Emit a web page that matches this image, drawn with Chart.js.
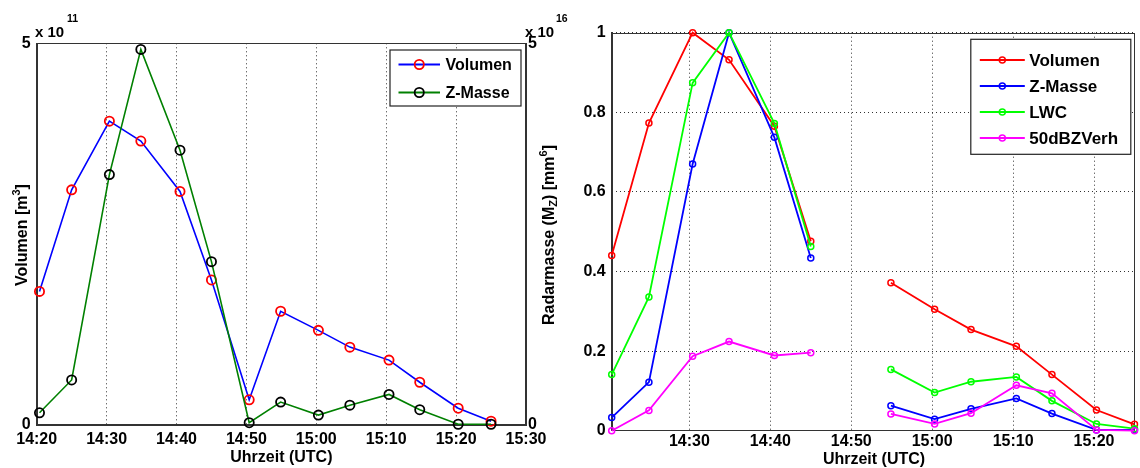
<!DOCTYPE html>
<html>
<head>
<meta charset="utf-8">
<script src="https://cdn.jsdelivr.net/npm/chart.js@4.4.1/dist/chart.umd.min.js"></script>
<style>
  html, body { margin: 0; padding: 0; background: #fff; }
  #wrap { position: relative; width: 1140px; height: 468px; }
  canvas { position: absolute; top: 0; }
  #volChart { left: 0; }
  #normChart { left: 570px; }
</style>
</head>
<body>
<div id="wrap">
  <canvas id="volChart" width="570" height="468"></canvas>
  <canvas id="normChart" width="570" height="468"></canvas>
</div>
<script>
// Messzeitpunkte, Minuten nach 14:00 UTC
const times = [20.4, 25.0, 30.4, 34.9, 40.5, 45.0, 50.4, 54.9, 60.3, 64.8, 70.4, 74.8, 80.3, 85.0];

// linkes Bild: Volumen (x 10^11 m^3) und Z-Masse (x 10^16 mm^6)
const volumen = [1.75, 3.08, 3.98, 3.72, 3.06, 1.90, 0.33, 1.49, 1.24, 1.02, 0.85, 0.56, 0.22, 0.05];
const zMasse  = [0.16, 0.59, 3.28, 4.92, 3.60, 2.14, 0.03, 0.30, 0.13, 0.26, 0.40, 0.20, 0.01, 0.01];

// rechtes Bild: normierte Werte, Luecke um 14:50
const volumenNorm = [0.44, 0.773, 1.0, 0.932, 0.765, 0.476, null, 0.372, 0.305, 0.254, 0.212, 0.141, 0.052, 0.016];
const zMasseNorm  = [0.033, 0.122, 0.670, 1.0, 0.737, 0.434, null, 0.063, 0.029, 0.055, 0.081, 0.043, 0.002, 0.002];
const lwcNorm     = [0.141, 0.336, 0.874, 1.0, 0.772, 0.463, null, 0.154, 0.096, 0.123, 0.135, 0.075, 0.017, 0.005];
const dbz50Norm   = [0.0, 0.051, 0.187, 0.224, 0.189, 0.196, null, 0.042, 0.017, 0.044, 0.114, 0.094, 0.002, 0.0];

// Achsen
const xRangeLeft = [20, 90];      // 14:20 .. 15:30
const yRangeLeft = [0, 5];
const yRangeRight = [0, 1];

const FONT = "'Liberation Sans', Arial, sans-serif";
Chart.defaults.font.family = FONT;
Chart.defaults.font.weight = 'bold';
Chart.defaults.font.size = 16;
Chart.defaults.color = '#000';

function hhmm(v) {
    const h = 14 + Math.floor(v / 60);
    const m = Math.round(v % 60);
    return h + ':' + String(m).padStart(2, '0');
}
const pts = ys => ys.map((y, i) => ({ x: times[i], y }));

// Text mit Hoch-/Tiefstellung, zentriert
function drawRuns(ctx, runs, x, y, rot, size, align) {
    ctx.save();
    ctx.translate(x, y);
    ctx.rotate(rot);
    const fnt = k => `bold ${k === 'n' ? size : Math.round(size * 0.68)}px ${FONT}`;
    let total = 0;
    runs.forEach(([t, k]) => { ctx.font = fnt(k); total += ctx.measureText(t).width; });
    let cx = align === 'left' ? 0 : -total / 2;
    ctx.fillStyle = '#000';
    ctx.textBaseline = 'alphabetic';
    runs.forEach(([t, k]) => {
        ctx.font = fnt(k);
        const dy = k === 'sup' ? -size * 0.42 : k === 'sub' ? size * 0.22 : 0;
        ctx.fillText(t, cx, size * 0.36 + dy);
        cx += ctx.measureText(t).width;
    });
    ctx.restore();
}

// MATLAB-artige Legende: Linie mit Kreis
function drawLegend(chart, lg) {
    const ctx = chart.ctx;
    ctx.save();
    ctx.fillStyle = '#fff';
    ctx.fillRect(lg.x, lg.y, lg.w, lg.h);
    ctx.strokeStyle = '#222';
    ctx.lineWidth = 1.2;
    ctx.strokeRect(lg.x, lg.y, lg.w, lg.h);
    chart.data.datasets.forEach((ds, i) => {
        const y = lg.y + lg.first + i * lg.step;
        ctx.strokeStyle = ds.borderColor;
        ctx.lineWidth = 2;
        ctx.beginPath();
        ctx.moveTo(lg.x + lg.l0, y);
        ctx.lineTo(lg.x + lg.l1, y);
        ctx.stroke();
        ctx.strokeStyle = ds.pointBorderColor;
        ctx.lineWidth = ds.pointBorderWidth;
        ctx.beginPath();
        ctx.arc(lg.x + (lg.l0 + lg.l1) / 2, y, ds.pointRadius, 0, Math.PI * 2);
        ctx.stroke();
        ctx.fillStyle = '#000';
        ctx.font = `bold ${lg.size}px ${FONT}`;
        ctx.textBaseline = 'middle';
        ctx.fillText(ds.label, lg.x + lg.tx, y + 1);
    });
    ctx.restore();
}

const matlabDeko = {
    id: 'matlabDeko',
    beforeDatasetsDraw(chart) {
        const a = chart.chartArea, ctx = chart.ctx;
        ctx.save();
        ctx.strokeStyle = '#333';
        ctx.lineWidth = 1;
        ctx.strokeRect(Math.round(a.left) + 0.5, Math.round(a.top) + 0.5,
            Math.round(a.right - a.left) - 1, Math.round(a.bottom - a.top) - 1);
        ctx.restore();
    },
    afterDraw(chart, args, o) {
        const ctx = chart.ctx;
        if (o.legend) drawLegend(chart, o.legend);
        (o.texts || []).forEach(t => drawRuns(ctx, t.runs, t.x, t.y, t.rot || 0, t.size, t.align));
    }
};

function fixWidth(w) { return s => { s.width = w; }; }
function fixHeight(h) { return s => { s.height = h; }; }

// ==================== LINKES DIAGRAMM ====================
new Chart(document.getElementById('volChart'), {
    type: 'line',
    data: {
        datasets: [{
            label: 'Volumen',
            data: pts(volumen),
            yAxisID: 'yL',
            borderColor: '#0000ff',
            borderWidth: 1.6,
            pointRadius: 4.6,
            pointBorderColor: '#ff0000',
            pointBackgroundColor: 'rgba(0,0,0,0)',
            pointBorderWidth: 1.8,
            order: 2,
            clip: false
        }, {
            label: 'Z-Masse',
            data: pts(zMasse),
            yAxisID: 'yR',
            borderColor: '#008000',
            borderWidth: 1.6,
            pointRadius: 4.6,
            pointBorderColor: '#000000',
            pointBackgroundColor: 'rgba(0,0,0,0)',
            pointBorderWidth: 1.8,
            order: 1,
            clip: false
        }]
    },
    options: {
        responsive: false,
        animation: false,
        events: [],
        layout: { padding: { top: 43.3, left: 0, right: 0, bottom: 0 } },
        plugins: {
            legend: { display: false },
            tooltip: { enabled: false },
            matlabDeko: {
                legend: { x: 390, y: 50, w: 131, h: 56, first: 14.5, step: 28, l0: 8.5, l1: 50, tx: 55.5, size: 16 },
                texts: [
                    { runs: [['x 10', 'n']], x: 35, y: 32, size: 15, align: 'left' },
                    { runs: [['11', 'n']], x: 67, y: 18, size: 10.5, align: 'left' },
                    { runs: [['x 10', 'n']], x: 525, y: 31.5, size: 15, align: 'left' },
                    { runs: [['16', 'n']], x: 556, y: 18, size: 10.5, align: 'left' },
                    { runs: [['Volumen [m', 'n'], ['3', 'sup'], [']', 'n']], x: 21, y: 235, rot: -Math.PI / 2, size: 16 },
                    { runs: [['Radarmasse (M', 'n'], ['Z', 'sub'], [') [mm', 'n'], ['6', 'sup'], [']', 'n']], x: 548, y: 235, rot: -Math.PI / 2, size: 16 },
                    { runs: [['Uhrzeit (UTC)', 'n']], x: 281.4, y: 456, size: 16 }
                ]
            }
        },
        scales: {
            x: {
                type: 'linear',
                min: xRangeLeft[0],
                max: xRangeLeft[1],
                afterFit: fixHeight(43),
                ticks: { stepSize: 10, callback: hhmm, padding: 5, maxRotation: 0, autoSkip: false },
                grid: { color: '#333', drawTicks: false, lineWidth: 1 },
                border: { color: '#333', dash: [1, 3] }
            },
            yL: {
                position: 'left',
                min: yRangeLeft[0],
                max: yRangeLeft[1],
                afterFit: fixWidth(36.7),
                ticks: { stepSize: 5, padding: 6 },
                grid: { display: false, drawTicks: false },
                border: { color: '#333' }
            },
            yR: {
                position: 'right',
                min: yRangeLeft[0],
                max: yRangeLeft[1],
                afterFit: fixWidth(44),
                ticks: { stepSize: 5, padding: 2 },
                grid: { display: false, drawTicks: false },
                border: { color: '#333' }
            }
        }
    },
    plugins: [matlabDeko]
});

// ==================== RECHTES DIAGRAMM ====================
function normSet(label, values, color, order) {
    return {
        label,
        data: pts(values),
        borderColor: color,
        borderWidth: 1.8,
        pointRadius: 3,
        pointBorderColor: color,
        pointBackgroundColor: 'rgba(0,0,0,0)',
        pointBorderWidth: 1.5,
        spanGaps: false,
        order,
        clip: false
    };
}

new Chart(document.getElementById('normChart'), {
    type: 'line',
    data: {
        datasets: [
            normSet('Volumen', volumenNorm, '#ff0000', 4),
            normSet('Z-Masse', zMasseNorm, '#0000ff', 3),
            normSet('LWC', lwcNorm, '#00ff00', 2),
            normSet('50dBZVerh', dbz50Norm, '#ff00ff', 1)
        ]
    },
    options: {
        responsive: false,
        animation: false,
        events: [],
        layout: { padding: { top: 32.7, left: 0, right: 3.3, bottom: 0 } },
        plugins: {
            legend: { display: false },
            tooltip: { enabled: false },
            matlabDeko: {
                legend: { x: 400.8, y: 39.3, w: 160, h: 115, first: 20.7, step: 26, l0: 9, l1: 54, tx: 58.5, size: 17 },
                texts: [
                    { runs: [['Uhrzeit (UTC)', 'n']], x: 304, y: 458, size: 16 }
                ]
            }
        },
        scales: {
            x: {
                type: 'linear',
                min: times[0],
                max: times[times.length - 1],
                afterFit: fixHeight(37.3),
                ticks: { stepSize: 10, includeBounds: false, callback: hhmm, padding: 1, maxRotation: 0, autoSkip: false },
                grid: { color: '#333', drawTicks: false, lineWidth: 1 },
                border: { color: '#333', dash: [1, 3] }
            },
            y: {
                position: 'left',
                min: yRangeRight[0],
                max: yRangeRight[1],
                afterFit: fixWidth(41.7),
                ticks: { stepSize: 0.2, padding: 6, callback: v => String(+v.toFixed(1)) },
                grid: { color: '#333', drawTicks: false, lineWidth: 1 },
                border: { color: '#333', dash: [1, 3] }
            }
        }
    },
    plugins: [matlabDeko]
});
</script>
</body>
</html>
